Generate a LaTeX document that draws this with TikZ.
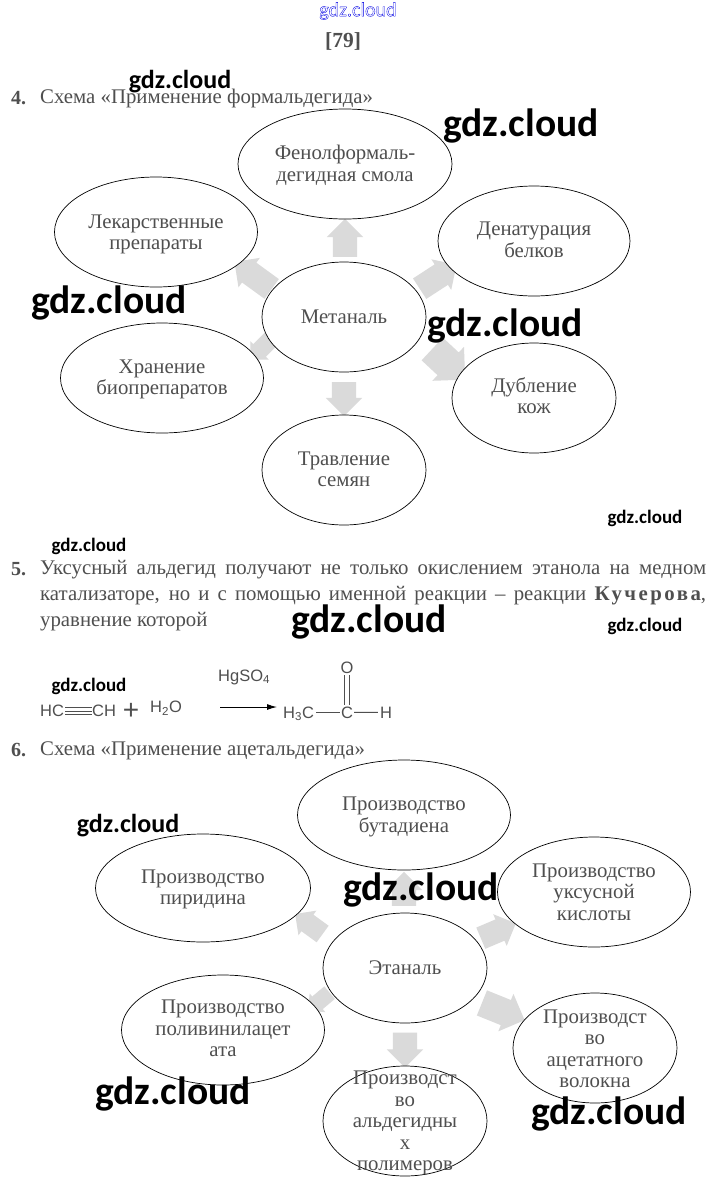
\documentclass[tikz,border=0pt]{standalone}
\usepackage{fontspec}
\usetikzlibrary{shapes.geometric,shapes.arrows,arrows.meta}
\setmainfont{Liberation Serif}
\newfontfamily\wmfont{Carlito}[BoldFont=Carlito Bold]
\newfontfamily\chemfont{Liberation Sans}
\newfontfamily\spacedfont{Liberation Serif}[LetterSpace=12,BoldFont=Liberation Serif Bold]
\definecolor{txtgray}{HTML}{4F4F4F}
\definecolor{arrowgray}{HTML}{DADADA}
\tikzset{
 ell/.style n args={2}{draw=black,line width=0.7pt,fill=white,ellipse,inner sep=0pt,minimum width=#1,minimum height=#2},
 etext/.style={align=center,text=txtgray,font=\fontsize{20.8}{21.5}\selectfont,inner sep=0pt,yshift=-1pt},
 barrow/.style n args={3}{single arrow,fill=arrowgray,draw=none,inner sep=0pt,rotate=#1,minimum height=#2,single arrow head extend=#3/6,single arrow head indent=0pt,execute at begin node={\rule{0pt}{\dimexpr #3pt*2/3\relax}}},
 plain/.style={anchor=west,text=txtgray,font=\fontsize{20.8}{22}\selectfont,inner sep=0pt,yshift=-1.5pt},
 num/.style={anchor=west,text=txtgray,font=\fontsize{20}{22}\selectfont\bfseries,inner sep=0pt,yshift=-1pt},
 wmbig/.style={text=black,inner sep=0pt,yshift=-2pt,font=\wmfont\bfseries\fontsize{39.5}{39.5}\selectfont},
 wmmid/.style={text=black,inner sep=0pt,yshift=-2pt,font=\wmfont\bfseries\fontsize{26}{26}\selectfont},
 wmsmall/.style={text=black,inner sep=0pt,yshift=-1pt,font=\wmfont\bfseries\fontsize{19}{19}\selectfont},
 chem/.style={text=txtgray,inner sep=0pt,font=\chemfont\fontsize{16.5}{16.5}\selectfont},
 bond/.style={draw=txtgray,line width=0.9pt},
}
\begin{document}
\begin{tikzpicture}[x=1pt,y=-1pt]
\path[use as bounding box,fill=white] (0,0) rectangle (717,1195);
% header
\node[text=blue!90!black,inner sep=0pt,font=\wmfont\fontsize{20}{20}\selectfont] (wmtop) at (358,11) {\special{pdf:code 1 Tr 0.35 w}gdz.cloud\special{pdf:code 0 Tr}};
\node[text=txtgray,inner sep=0pt,font=\fontsize{21.5}{22}\selectfont\bfseries] (page) at (343,41) {[79]};
\node[num] (n4) at (11,97) {4.};
\node[plain] (h4) at (40,97) {Схема «Применение формальдегида»};
% figure 1 arrows
\node[barrow={90}{38}{36}] (a1) at (345,244) {};
\node[barrow={144}{46}{36}] (a2) at (258,279) {};
\node[barrow={33}{44}{36}] (a3) at (433,280) {};
\node[barrow={225}{30}{26}] (a4) at (264,346) {};
\node[barrow={-43}{45}{46}] (a5) at (443,359) {};
\node[barrow={-90}{34}{36}] (a6) at (344,393) {};
% figure 1 ellipses
\node[ell={214pt}{110pt}] (f1a) at (345,164) {};
\node[ell={203pt}{110pt}] (f1b) at (156,232) {};
\node[ell={192pt}{110pt}] (f1c) at (534,241) {};
\node[ell={164pt}{110pt}] (f1m) at (344,317) {};
\node[ell={203pt}{110pt}] (f1d) at (162,378) {};
\node[ell={164pt}{110pt}] (f1e) at (534,398) {};
\node[ell={164pt}{110pt}] (f1f) at (344,470) {};
\node[etext,yshift=-0.5pt] (t1a) at (f1a) {Фенолформаль-\\дегидная смола};
\node[etext,yshift=-1.5pt] (t1b) at (f1b) {Лекарственные\\препараты};
\node[etext,yshift=2pt] (t1c) at (f1c) {Денатурация\\белков};
\node[etext,yshift=1pt] (t1m) at (f1m) {Метаналь};
\node[etext,yshift=-0.5pt] (t1d) at (f1d) {Хранение\\биопрепаратов};
\node[etext,yshift=3.5pt] (t1e) at (f1e) {Дубление\\кож};
\node[etext,yshift=1.5pt] (t1f) at (f1f) {Травление\\семян};
% paragraph 5
\node[num] (n5) at (11,568) {5.};
\node[plain] (p1) at (40,568) {\makebox[666pt][s]{Уксусный альдегид получают не только окислением этанола на медном}};
\node[plain] (p2) at (40,594) {\makebox[666pt][s]{катализаторе, но и с помощью именной реакции – реакции {\spacedfont\bfseries Кучерова},}};
\node[plain] (p3) at (40,620) {уравнение которой};
% reaction
\node[chem,anchor=west] (hc) at (40,711) {HC};
\node[chem,anchor=west] (ch) at (92,711) {CH};
\draw[bond] ([yshift=0pt]hc.east) ++(1,0) -- ([yshift=0pt]ch.west);
\draw[bond] ([yshift=3.5pt]hc.east) ++(1,0) -- ([yshift=3.5pt]ch.west);
\draw[bond] ([yshift=-3.5pt]hc.east) ++(1,0) -- ([yshift=-3.5pt]ch.west);
\node[chem,font=\chemfont\fontsize{28}{28}\selectfont] (plus) at (131,711) {+};
\node[chem,anchor=west] (w) at (150,708) {H\textsubscript{2}O};
\node[chem,anchor=west] (cat) at (218,677) {HgSO\textsubscript{4}};
\coordinate (ra) at (220,707);
\coordinate (rb) at (277,707);
\draw[draw=black,line width=1pt,-{Latex[length=10pt,width=6pt]}] (ra) -- (rb);
\node[chem,anchor=base west] (h3c) at (283,718) {H\textsubscript{3}C};
\node[chem,anchor=base] (c) at (347,718) {C};
\node[chem,anchor=base] (h) at (386,718) {H};
\node[chem] (o) at (347,668) {O};
\draw[bond] (h3c.east |- c.west) ++(2,0) -- ([xshift=-1pt]c.west);
\draw[bond] ([xshift=1pt]c.east) -- ([xshift=-2pt]h.west);
\draw[bond] ([xshift=-2.5pt,yshift=-1pt]o.south) -- ([xshift=-2.5pt,yshift=1pt]c.north);
\draw[bond] ([xshift=2.5pt,yshift=-1pt]o.south) -- ([xshift=2.5pt,yshift=1pt]c.north);
% heading 6
\node[num] (n6) at (11,749) {6.};
\node[plain] (h6) at (40,749) {Схема «Применение ацетальдегида»};
% figure 2 arrows
\node[barrow={90}{34}{36}] (b1) at (404,895) {};
\node[barrow={144}{34}{30}] (b2) at (313,927) {};
\node[barrow={23}{38}{34}] (b3) at (493,933) {};
\node[barrow={220}{28}{24}] (b4) at (322,999) {};
\node[barrow={-22}{46}{40}] (b5) at (497,1009) {};
\node[barrow={-90}{35}{36}] (b6) at (405,1044) {};
% figure 2 ellipses
\node[ell={213pt}{110pt}] (f2a) at (404,815) {};
\node[ell={215pt}{108pt}] (f2b) at (203,888) {};
\node[ell={193pt}{110pt}] (f2c) at (594,892) {};
\node[ell={164pt}{110pt}] (f2m) at (405,968) {};
\node[ell={203pt}{110pt}] (f2d) at (223,1030) {};
\node[ell={164pt}{110pt}] (f2e) at (595,1048) {};
\node[ell={164pt}{110pt}] (f2f) at (405,1121) {};
\node[etext,yshift=-1pt] (t2a) at (f2a) {Производство\\бутадиена};
\node[etext,yshift=-0.5pt] (t2b) at (f2b) {Производство\\пиридина};
\node[etext,yshift=1pt] (t2c) at (f2c) {Производство\\уксусной\\кислоты};
\node[etext,yshift=1pt] (t2m) at (f2m) {Этаналь};
\node[etext,yshift=2.5pt] (t2d) at (f2d) {Производство\\поливинилацет\\ата};
\node[etext] (t2e) at (f2e) {Производст\\во\\ацетатного\\волокна};
\node[etext,yshift=-1pt] (t2f) at (f2f) {Производст\\во\\альдегидны\\х\\полимеров};
% watermarks
\node[wmmid] (w1) at (180,80) {gdz.cloud};
\node[wmbig] (w2) at (521,124) {gdz.cloud};
\node[wmbig] (w3) at (109,301) {gdz.cloud};
\node[wmbig] (w4) at (505,324) {gdz.cloud};
\node[wmsmall] (w5) at (645,517) {gdz.cloud};
\node[wmsmall] (w6) at (89,545) {gdz.cloud};
\node[wmbig] (w7) at (369,620) {gdz.cloud};
\node[wmsmall] (w8) at (645,625) {gdz.cloud};
\node[wmsmall] (w9) at (89,685) {gdz.cloud};
\node[wmmid] (w10) at (128,824) {gdz.cloud};
\node[wmbig] (w11) at (421,888) {gdz.cloud};
\node[wmbig] (w12) at (173,1092) {gdz.cloud};
\node[wmbig] (w13) at (609,1112) {gdz.cloud};
\end{tikzpicture}
\end{document}
